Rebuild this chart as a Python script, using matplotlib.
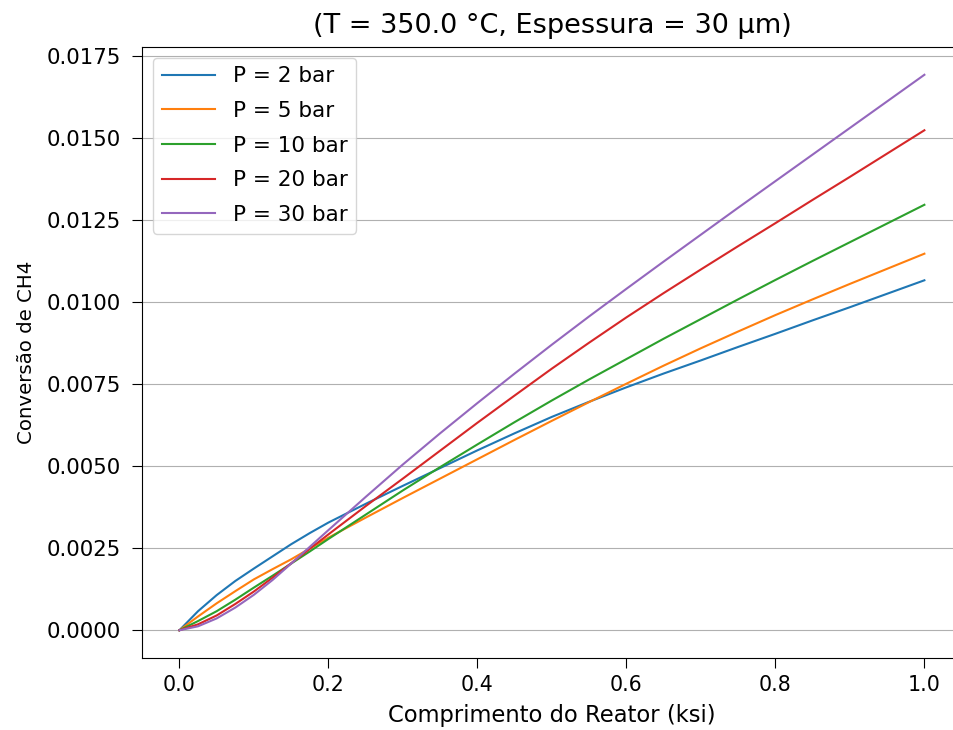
import matplotlib
matplotlib.use("Agg")
import matplotlib.pyplot as plt

# comprimento adimensional do reator
ksi = [0.0, 0.025, 0.05, 0.075, 0.1, 0.125, 0.15, 0.175, 0.2, 0.25, 0.3, 0.35,
       0.4, 0.45, 0.5, 0.55, 0.6, 0.65, 0.7, 0.75, 0.8, 0.85, 0.9, 0.95, 1.0]

# conversão de CH4 para cada pressão
conv_2bar = [0.0, 0.00058, 0.00107, 0.00150, 0.00188, 0.00225, 0.00262, 0.00296,
             0.00328, 0.00385, 0.00440, 0.00494, 0.00548, 0.00600, 0.00650,
             0.00696, 0.00740, 0.00782, 0.00822, 0.00863, 0.00903, 0.00944,
             0.00984, 0.01025, 0.01066]
conv_5bar = [0.0, 0.00042, 0.00082, 0.00119, 0.00155, 0.00186, 0.00216, 0.00249,
             0.00282, 0.00343, 0.00403, 0.00462, 0.00521, 0.00580, 0.00638,
             0.00695, 0.00751, 0.00806, 0.00859, 0.00910, 0.00960, 0.01008,
             0.01055, 0.01101, 0.01147]
conv_10bar = [0.0, 0.00028, 0.00058, 0.00093, 0.00130, 0.00166, 0.00203, 0.00240,
              0.00278, 0.00352, 0.00426, 0.00497, 0.00566, 0.00634, 0.00700,
              0.00764, 0.00826, 0.00888, 0.00948, 0.01008, 0.01067, 0.01125,
              0.01182, 0.01239, 0.01296]
conv_20bar = [0.0, 0.00018, 0.00045, 0.00080, 0.00118, 0.00160, 0.00204, 0.00248,
              0.00292, 0.00378, 0.00462, 0.00547, 0.00632, 0.00715, 0.00797,
              0.00876, 0.00953, 0.01027, 0.01099, 0.01170, 0.01240, 0.01311,
              0.01381, 0.01452, 0.01523]
conv_30bar = [0.0, 0.00012, 0.00036, 0.00069, 0.00108, 0.00153, 0.00203, 0.00254,
              0.00305, 0.00406, 0.00505, 0.00600, 0.00692, 0.00782, 0.00870,
              0.00956, 0.01040, 0.01123, 0.01205, 0.01287, 0.01368, 0.01449,
              0.01530, 0.01611, 0.01692]

pressoes = [2, 5, 10, 20, 30]
series = [conv_2bar, conv_5bar, conv_10bar, conv_20bar, conv_30bar]

fig, ax = plt.subplots(figsize=(9.54, 7.3), dpi=100)
# o eixo continua além da borda direita da imagem (recortada)
fig.subplots_adjust(left=0.149, right=1.008, top=0.9356, bottom=0.0986)

for p, conv in zip(pressoes, series):
    ax.plot(ksi, conv, linewidth=1.5, label=f"P = {p} bar")

ax.set_title("(T = 350.0 °C, Espessura = 30 µm)", fontsize=19.5, pad=10)
ax.set_xlabel("Comprimento do Reator (ksi)", fontsize=16.3, labelpad=7)
ax.set_ylabel("Conversão de CH4", fontsize=14.2, labelpad=8)

ax.yaxis.set_major_formatter(matplotlib.ticker.FormatStrFormatter("%.4f"))
ax.tick_params(axis="y", labelsize=15.3, length=7, pad=8)
ax.tick_params(axis="x", labelsize=14.8, length=7, pad=5)

ax.grid(axis="y")
ax.legend(loc="upper left", fontsize=15.5, handlelength=2.5, labelspacing=0.68)

plt.savefig("out.png")
plt.close()
